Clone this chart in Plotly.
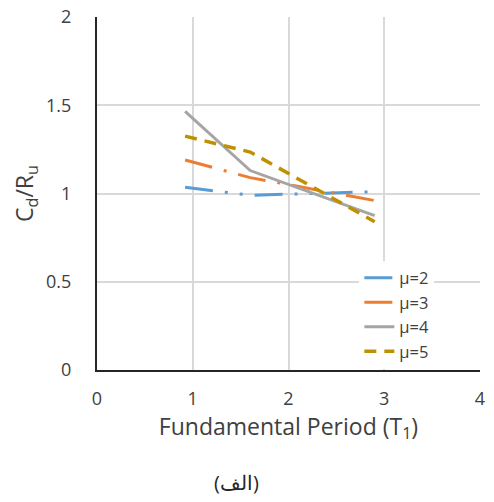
import plotly.graph_objects as go

periods = [0.92, 1.6, 2.9]
mu2 = [1.035, 0.99, 1.01]
mu3 = [1.19, 1.09, 0.96]
mu4 = [1.465, 1.13, 0.875]
mu5 = [1.325, 1.235, 0.84]
series_names = ["μ=2", "μ=3", "μ=4", "μ=5"]
x_ticks = [0, 1, 2, 3, 4]
y_ticks = [0, 0.5, 1, 1.5, 2]
y_tick_labels = ["0", "0.5", "1", "1.5", "2"]

styles = [
    dict(color="#5B9BD5", width=3, dash="28px,12px,3px,12px,3px,12px"),
    dict(color="#ED7D31", width=3, dash="28px,12px,3px,12px"),
    dict(color="#A5A5A5", width=3, dash="solid"),
    dict(color="#BF9000", width=3.5, dash="12px,8px"),
]

fig = go.Figure()
for name, ys, st in zip(series_names, [mu2, mu3, mu4, mu5], styles):
    fig.add_trace(go.Scatter(x=periods, y=ys, mode="lines", name=name, line=st))

font = "Open Sans, Liberation Sans, sans-serif"
txt = "#404040"
fig.update_layout(
    width=494, height=502,
    margin=dict(l=97, r=14, t=17, b=132, autoexpand=False),
    paper_bgcolor="white", plot_bgcolor="white",
    font=dict(family=font, color=txt, size=18),
    showlegend=True,
    legend=dict(x=0.685, xanchor="left", y=0.31, yanchor="top",
                bgcolor="white", font=dict(size=16.5, color=txt),
                tracegroupgap=0),
    xaxis=dict(range=[0, 4], tickvals=x_ticks, showgrid=True, gridcolor="#D9D9D9",
               gridwidth=1.5, showline=True, linecolor="#262626", linewidth=2,
               zeroline=False, ticks="", ticklabelstandoff=11, automargin=False,
               tickfont=dict(size=18, color=txt),
               title=dict(text="Fundamental Period (T<sub>1</sub>)",
                          font=dict(size=23, color=txt), standoff=6)),
    yaxis=dict(range=[0, 2], tickvals=y_ticks, ticktext=y_tick_labels, showgrid=True,
               gridcolor="#D9D9D9", gridwidth=1.5, showline=True, linecolor="#262626",
               linewidth=2, zeroline=False, ticks="", ticklabelstandoff=20, automargin=False,
               tickfont=dict(size=18, color=txt),
               title=dict(text="C<sub>d</sub>/R<sub>u</sub>",
                          font=dict(size=23, color=txt), standoff=6)),
)
fig.add_annotation(text="(الف)", xref="paper", yref="paper", x=(236 - 97) / 383,
                   y=(370 - 482) / 353, showarrow=False,
                   font=dict(size=20, color="#262626", family=font),
                   xanchor="center", yanchor="middle")
fig.write_html("out.html", config={"displayModeBar": False},
               post_script="document.body.style.margin='0';")
